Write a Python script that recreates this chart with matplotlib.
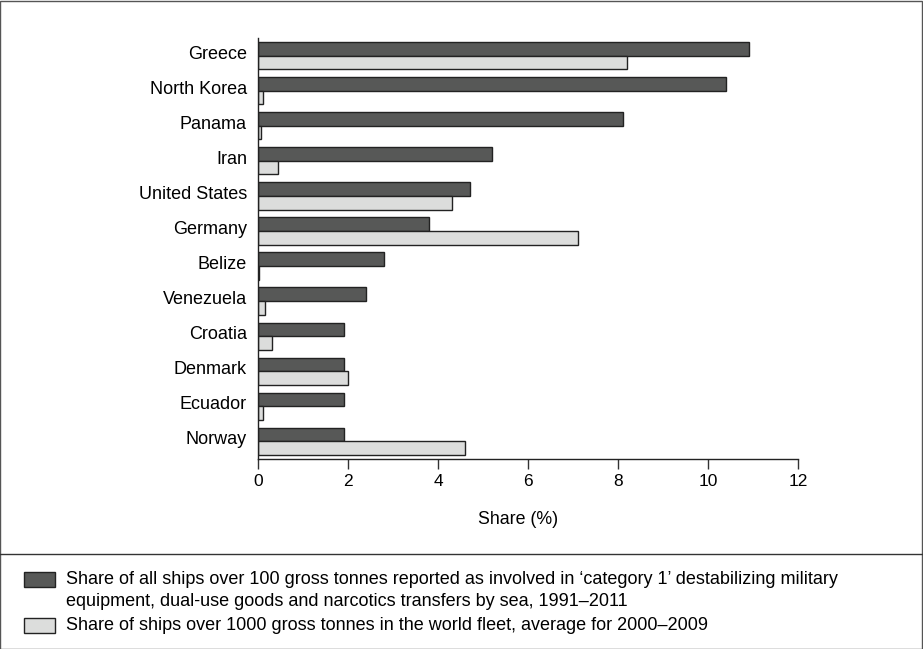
import numpy as np
import matplotlib
matplotlib.use('Agg')
import matplotlib.pyplot as plt
from matplotlib.patches import Rectangle
from matplotlib.lines import Line2D

plt.rcParams['font.family'] = ['Liberation Sans', 'DejaVu Sans']

# data
countries = ['Greece', 'North Korea', 'Panama', 'Iran', 'United States', 'Germany',
             'Belize', 'Venezuela', 'Croatia', 'Denmark', 'Ecuador', 'Norway']
transfers_share = [10.9, 10.4, 8.1, 5.2, 4.7, 3.8, 2.8, 2.4, 1.9, 1.9, 1.9, 1.9]
fleet_share = [8.2, 0.1, 0.06, 0.45, 4.3, 7.1, 0.02, 0.16, 0.3, 2.0, 0.12, 4.6]
xticks = [0, 2, 4, 6, 8, 10, 12]

label_dark = ["Share of all ships over 100 gross tonnes reported as involved in \u2018category 1\u2019 "
              "destabilizing military",
              "equipment, dual-use goods and narcotics transfers by sea, 1991\u20132011"]
label_light = "Share of ships over 1000 gross tonnes in the world fleet, average for 2000\u20132009"

DARK = '#575857'
LIGHT = '#dcdddc'
EDGE = '#222222'

W, H = 923, 649
fig = plt.figure(figsize=(W / 100, H / 100), dpi=100)


def fx(x):
    return x / W


def fy(y):
    return 1 - y / H


ax = fig.add_axes([fx(258), fy(459), fx(798) - fx(258), fy(38) - fy(459)])

y = np.arange(len(countries))
bh = 0.39
ax.barh(y - bh / 2, transfers_share, height=bh, color=DARK, edgecolor=EDGE, linewidth=1)
ax.barh(y + bh / 2, fleet_share, height=bh, color=LIGHT, edgecolor=EDGE, linewidth=1)

ax.set_xlim(0, 12)
ax.set_ylim(len(countries) - 0.5, -0.5)
ax.set_xticks(xticks)
ax.set_xticklabels([str(t) for t in xticks], fontsize=12.5)
ax.set_yticks(y - 0.1)
ax.set_yticklabels(countries, fontsize=13)
ax.tick_params(axis='y', length=0, pad=8)
ax.tick_params(axis='x', length=7, width=1, pad=4, direction='out', color='#333333')
for s in ['top', 'right']:
    ax.spines[s].set_visible(False)
for s in ['left', 'bottom']:
    ax.spines[s].set_color('#222222')
    ax.spines[s].set_linewidth(1)

fig.text(fx(518), fy(519), 'Share (%)', ha='center', va='center', fontsize=12.8)

# frame and separator
fig.add_artist(Rectangle((0.0005, 0.0005), 0.998, 0.998, transform=fig.transFigure,
                         fill=False, edgecolor='#555555', linewidth=1))
fig.add_artist(Line2D([0, 1], [fy(554), fy(554)], transform=fig.transFigure,
                      color='#333333', linewidth=1))

# legend
fig.add_artist(Rectangle((fx(24), fy(587)), fx(55) - fx(24), fy(572) - fy(587),
                         transform=fig.transFigure, facecolor=DARK, edgecolor=EDGE, linewidth=1))
fig.text(fx(66), fy(579), label_dark[0], ha='left', va='center', fontsize=13)
fig.text(fx(66), fy(602), label_dark[1], ha='left', va='center', fontsize=13)
fig.add_artist(Rectangle((fx(24), fy(633)), fx(55) - fx(24), fy(618) - fy(633),
                         transform=fig.transFigure, facecolor=LIGHT, edgecolor=EDGE, linewidth=1))
fig.text(fx(66), fy(625), label_light, ha='left', va='center', fontsize=13)

fig.savefig('out.png', dpi=100)
